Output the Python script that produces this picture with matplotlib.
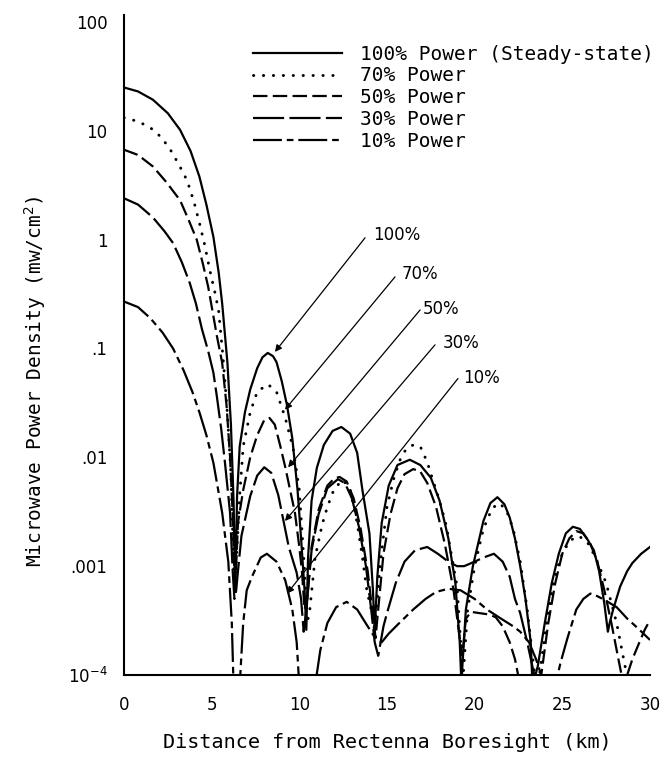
import matplotlib
matplotlib.use("Agg")
import matplotlib.pyplot as plt
from matplotlib.lines import Line2D

# ---------------- data ----------------
dist_100 = [0, 0.8, 1.65, 2.5, 3.2, 3.8, 4.3, 4.7, 5.1, 5.4, 5.6, 5.9, 6.1, 6.25, 6.35,
            6.45, 6.6, 6.9, 7.2, 7.6, 7.9, 8.2, 8.5, 8.7, 9.0, 9.3, 9.6, 9.9, 10.1, 10.3, 10.4,
            10.5, 10.7, 11.0, 11.4, 11.9, 12.4, 12.9, 13.3, 13.6, 14.0, 14.2, 14.3,
            14.45, 14.7, 15.1, 15.6, 16.3, 16.9, 17.5, 18.0, 18.5, 18.9, 19.15, 19.25,
            19.3, 19.5, 19.9, 20.5, 20.9, 21.3, 21.7, 22.0, 22.3, 22.6, 22.9, 23.2, 23.3,
            23.6, 24.0, 24.4, 24.8, 25.2, 25.6, 26.0, 26.4, 26.8, 27.1, 27.4, 27.6,
            27.7, 27.9, 28.3, 28.7, 29.0, 29.5, 30.0]
dens_100 = [25, 23, 19.3, 14.5, 10.2, 6.5, 3.8, 2.1, 1.06, 0.5, 0.26, 0.074, 0.02, 0.004, 0.0006,
            0.0044, 0.0126, 0.026, 0.042, 0.066, 0.083, 0.091, 0.085, 0.075, 0.05, 0.03, 0.015, 0.005, 0.0018, 0.0006, 0.00026,
            0.0012, 0.004, 0.008, 0.013, 0.0175, 0.019, 0.0165, 0.011, 0.005, 0.002, 0.0006, 0.00025,
            0.0008, 0.0025, 0.0055, 0.0085, 0.0095, 0.0085, 0.0065, 0.004, 0.0018, 0.0007, 0.0002, 0.00008,
            0.00012, 0.0004, 0.001, 0.0026, 0.0038, 0.0043, 0.0037, 0.0028, 0.0018, 0.001, 0.0005, 0.0002, 0.00008,
            0.00012, 0.0003, 0.0007, 0.0013, 0.002, 0.0023, 0.0022, 0.0018, 0.0014, 0.0009, 0.00045, 0.00025,
            0.0003, 0.0004, 0.00065, 0.0009, 0.00107, 0.0013, 0.0015]

dist_70 = [0, 0.8, 1.5, 2.1, 2.6, 3.1, 3.6, 4.0, 4.3, 4.6, 4.9, 5.2, 5.4, 5.65, 5.9, 6.1, 6.3,
           6.45, 6.6, 6.8, 7.2, 7.6, 8.2, 8.7, 9.2, 9.65, 10.0, 10.3, 10.45,
           10.6, 10.9, 11.3, 11.6, 12.0, 12.5, 12.9, 13.3, 13.6, 13.85, 14.1, 14.3,
           14.4, 14.6, 15.0, 15.4, 15.75, 16.1, 16.5, 16.9, 17.3, 17.6, 18.0, 18.4, 18.7, 19.0, 19.2, 19.3,
           19.35, 19.6, 20.0, 20.5, 21.0, 21.4, 21.8, 22.2, 22.6, 23.0, 23.3, 23.5,
           23.7, 24.1, 24.5, 24.9, 25.4, 25.9, 26.4, 26.9, 27.5, 28.1, 28.5, 28.8]
dens_70 = [13.2, 12.2, 10.7, 8.8, 6.9, 5.0, 3.5, 2.2, 1.43, 0.9, 0.52, 0.32, 0.22, 0.083, 0.025, 0.007, 0.0006,
           0.0015, 0.0045, 0.0126, 0.026, 0.04, 0.047, 0.04, 0.023, 0.012, 0.005, 0.0009, 0.0003,
           0.0004, 0.0012, 0.0024, 0.0035, 0.0052, 0.0062, 0.005, 0.0025, 0.0012, 0.0006, 0.0004, 0.00025,
           0.0004, 0.001, 0.0035, 0.0065, 0.0095, 0.012, 0.013, 0.0126, 0.009, 0.0063, 0.004, 0.0023, 0.0012, 0.00065, 0.0002, 0.00008,
           0.0001, 0.0004, 0.001, 0.0022, 0.0034, 0.0038, 0.0033, 0.0022, 0.0011, 0.0004, 0.00015, 0.00008,
           0.0001, 0.0003, 0.0007, 0.0012, 0.0017, 0.0019, 0.0017, 0.0012, 0.0007, 0.0003, 0.00014, 0.00008]

dist_50 = [0, 0.8, 1.65, 2.4, 3.2, 3.7, 4.15, 4.5, 4.8, 5.05, 5.3, 5.6, 5.85, 6.05, 6.2, 6.32,
           6.42, 6.5, 6.8, 7.2, 7.6, 8.0, 8.3, 8.6, 8.9, 9.2, 9.5, 9.75, 10.0, 10.15, 10.3,
           10.45, 10.7, 11.1, 11.6, 12.0, 12.3, 12.7, 13.1, 13.5, 13.9, 14.2, 14.35,
           14.5, 14.8, 15.2, 15.6, 16.0, 16.5, 16.9, 17.3, 17.8, 18.3, 18.8, 19.1, 19.3,
           19.5, 19.8, 20.3, 20.8, 21.2, 21.6, 22.0, 22.3, 22.6,
           22.8, 23.6,
           23.8, 24.2, 24.6, 25.0, 25.4, 25.8, 26.2, 26.6, 27.0, 27.4, 27.8, 28.2, 28.5,
           28.7, 29.0, 29.4, 29.7, 30.0]
dens_50 = [6.7, 6.0, 4.7, 3.4, 2.3, 1.5, 1.0, 0.6, 0.37, 0.22, 0.13, 0.074, 0.03, 0.01, 0.003, 0.0006,
           0.0012, 0.0025, 0.005, 0.01, 0.016, 0.022, 0.023, 0.02, 0.013, 0.0081, 0.0048, 0.0031, 0.0015, 0.0009, 0.0004,
           0.0005, 0.0015, 0.0033, 0.0055, 0.0064, 0.0066, 0.006, 0.0042, 0.0022, 0.0009, 0.00035, 0.00022,
           0.0004, 0.0013, 0.003, 0.0052, 0.007, 0.0078, 0.0074, 0.0058, 0.0035, 0.0016, 0.0006, 0.00025, 0.00015,
           0.00033, 0.00038, 0.00037, 0.00036, 0.00034, 0.00028, 0.0002, 0.00014, 0.00008,
           0.00005, 0.00005,
           0.0001, 0.0003, 0.0007, 0.0013, 0.0018, 0.0021, 0.002, 0.0016, 0.0011, 0.0006, 0.0003, 0.00014, 0.00008,
           0.0001, 0.00014, 0.0002, 0.00026, 0.00032]

dist_30 = [0, 0.8, 1.65, 2.3, 2.8, 3.3, 3.75, 4.1, 4.45, 4.8, 5.1, 5.3, 5.55, 5.76, 6.05, 6.2, 6.3,
           6.4, 6.5, 6.7, 7.2, 7.6, 8.0, 8.4, 8.8, 9.1, 9.4, 9.85, 10.1, 10.25,
           10.4, 10.7, 11.1, 11.6, 12.2, 12.6, 13.0, 13.4, 13.8, 14.1, 14.3,
           14.5, 14.8, 15.0, 15.5, 16.0, 16.6, 17.3, 17.9, 18.5, 19.0, 19.4, 20.0,
           20.5, 21.1, 21.6, 22.0, 22.3, 22.6, 23.0, 23.4, 23.6]
dens_30 = [2.4, 2.1, 1.6, 1.2, 0.93, 0.62, 0.40, 0.26, 0.15, 0.095, 0.06, 0.036, 0.018, 0.0089, 0.0031, 0.0009, 0.0005,
           0.0006, 0.0009, 0.0019, 0.0044, 0.0068, 0.0081, 0.0072, 0.0045, 0.0026, 0.0015, 0.00087, 0.0005, 0.00025,
           0.0004, 0.0014, 0.003, 0.0052, 0.0063, 0.0058, 0.0042, 0.0023, 0.001, 0.0004, 0.0002,
           0.00015, 0.00028, 0.00037, 0.0007, 0.0011, 0.0014, 0.0015, 0.0013, 0.0011, 0.001, 0.001, 0.0011,
           0.0012, 0.0013, 0.0011, 0.0008, 0.0005, 0.00037, 0.0002, 0.0001, 0.00007]

dist_10 = [0, 0.8, 1.5, 2.2, 2.8, 3.4, 3.9, 4.3, 4.7, 5.1, 5.6, 5.95, 6.15, 6.25,
           6.6, 6.8, 7.0, 7.3, 7.8, 8.15, 8.7, 9.2, 9.6, 9.85, 10.0,
           10.9, 11.2, 11.6, 12.1, 12.7, 13.3, 13.9, 14.4, 14.7, 15.1, 15.7, 16.5, 17.2, 17.8,
           18.5, 19.2, 20.0, 20.7, 21.5, 22.2, 22.6, 23.1, 23.5, 24.0,
           24.6, 24.9, 25.3, 25.8, 26.2, 26.6, 27.0, 27.5, 28.1, 28.7, 29.3, 30.0]
dens_10 = [0.27, 0.24, 0.19, 0.14, 0.1, 0.063, 0.04, 0.026, 0.016, 0.0089, 0.0031, 0.0011, 0.0003, 0.00008,
           0.00008, 0.0003, 0.0006, 0.0008, 0.0012, 0.0013, 0.0011, 0.00074, 0.0004, 0.0002, 0.00008,
           0.00008, 0.00017, 0.0003, 0.00042, 0.00047, 0.0004, 0.00028, 0.00021, 0.0002, 0.00024, 0.0003, 0.0004, 0.0005, 0.00058,
           0.00062, 0.0006, 0.0005, 0.0004, 0.00033, 0.00028, 0.00025, 0.0002, 0.00014, 0.00008,
           0.00008, 0.00013, 0.00022, 0.0004, 0.0005, 0.00056, 0.00053, 0.00048, 0.00042, 0.00033, 0.00027, 0.00021]

legend_labels = ["100% Power (Steady-state)", "70% Power", "50% Power", "30% Power", "10% Power"]
arrow_labels = ["100%", "70%", "50%", "30%", "10%"]
arrow_text_pos = [(14.2, 1.107), (15.86, 0.485), (17.06, 0.231), (18.2, 0.112), (19.34, 0.0537)]
arrow_tail = [(13.75, 1.04), (15.46, 0.455), (16.89, 0.226), (17.74, 0.108), (19.05, 0.053)]
arrow_head = [(8.61, 0.093), (9.18, 0.0274), (9.36, 0.0081), (9.18, 0.0026), (9.30, 0.00056)]

y_ticks = [100, 10, 1, 0.1, 0.01, 0.001, 1e-4]
y_tick_labels = ["100", "10", "1", ".1", ".01", ".001", r"$10^{-4}$"]
x_ticks = [0, 5, 10, 15, 20, 25, 30]

# ---------------- figure ----------------
fig = plt.figure(figsize=(6.68, 7.61), dpi=100)
ax = fig.add_axes([0.1856, 0.1130, 0.7874, 0.8673])

LW = 1.6
styles = [
    dict(linestyle="-", lw=LW),
    dict(linestyle=(0, (0.1, 3.3)), lw=2.1, dash_capstyle="round"),
    dict(linestyle=(0, (6.5, 2.4)), lw=LW),
    dict(linestyle=(0, (14, 2.4)), lw=LW),
    dict(linestyle=(0, (13, 2.2, 3, 2.2)), lw=LW),
]
series = [(dist_100, dens_100), (dist_70, dens_70), (dist_50, dens_50),
          (dist_30, dens_30), (dist_10, dens_10)]

for (xs, ys), st in zip(series, styles):
    ax.plot(xs, ys, color="black", **st)

ax.set_yscale("log")
ax.set_xlim(0, 30)
ax.set_ylim(1e-4, 10 ** 2.064)
ax.set_yticks(y_ticks)
ax.set_yticklabels(y_tick_labels)
ax.minorticks_off()
ax.set_xticks(x_ticks)
ax.set_xticklabels([str(t) for t in x_ticks])
ax.tick_params(axis="both", length=0, labelsize=12)
ax.tick_params(axis="y", pad=12)
ax.tick_params(axis="x", pad=15)

for s in ["top", "right"]:
    ax.spines[s].set_visible(False)
for s in ["left", "bottom"]:
    ax.spines[s].set_linewidth(1.5)

mono = "DejaVu Sans Mono"
ax.set_xlabel("Distance from Rectenna Boresight (km)", fontsize=14.5, family=mono)
ax.set_ylabel(r"Microwave Power Density (mw/cm$^2$)", fontsize=14, family=mono)
ax.xaxis.set_label_coords(0.5, -0.103)
ax.xaxis.label.set_va("center")
ax.yaxis.set_label_coords(-0.169, 0.445)
ax.yaxis.label.set_va("center")

# legend
handles = [Line2D([], [], color="black", **st) for st in styles]
ax.legend(handles, legend_labels, loc="upper left", bbox_to_anchor=(0.245, 0.955),
          frameon=False, handlelength=4.6, handletextpad=0.9, labelspacing=0.14,
          borderpad=0, borderaxespad=0, prop=dict(family=mono, size=14))

# arrows with labels
for lab, tp, tail, head in zip(arrow_labels, arrow_text_pos, arrow_tail, arrow_head):
    ax.text(tp[0], tp[1], lab, fontsize=12, ha="left", va="center")
    ax.annotate("", xy=head, xytext=tail,
                arrowprops=dict(arrowstyle="-|>", color="black", lw=0.9,
                                mutation_scale=10, shrinkA=0, shrinkB=0))

fig.savefig("out.png", dpi=100)
